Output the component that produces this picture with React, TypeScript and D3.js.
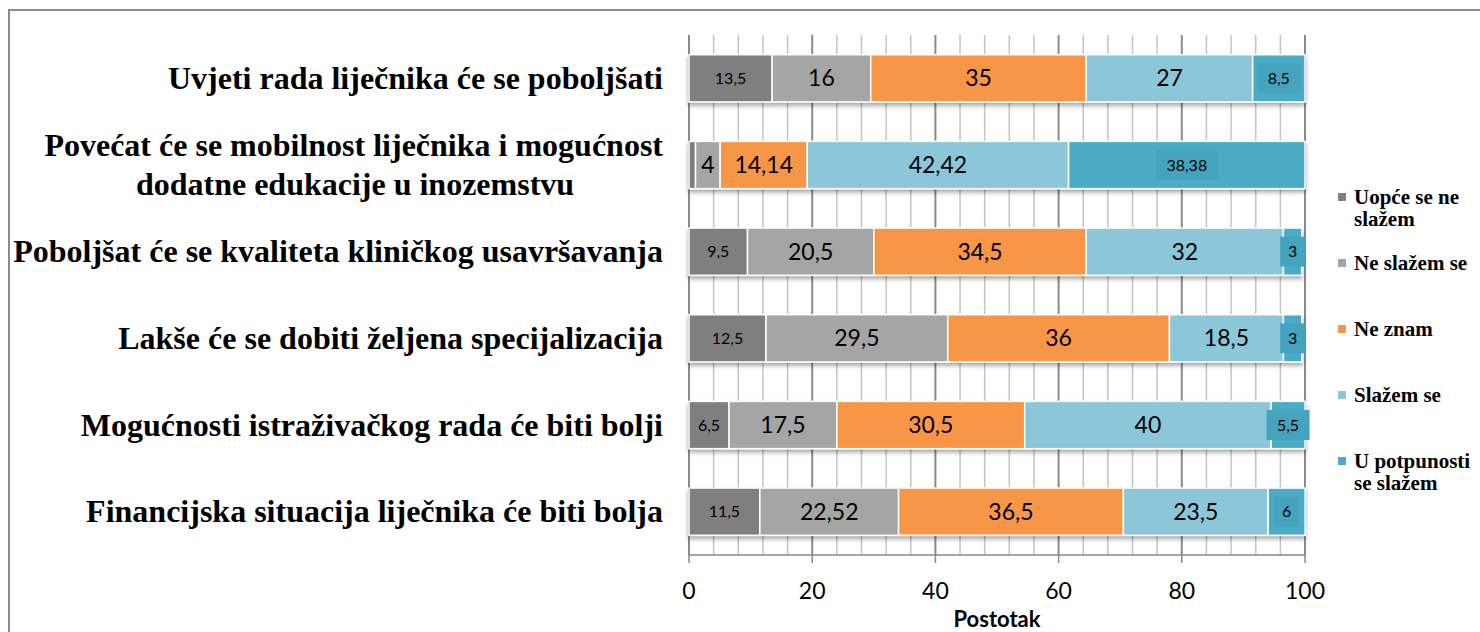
import React from 'react';
import * as d3 from 'd3';

const categories = [
  'Uvjeti rada liječnika će se poboljšati',
  'Povećat će se mobilnost liječnika i mogućnost|dodatne edukacije u inozemstvu',
  'Poboljšat će se kvaliteta kliničkog usavršavanja',
  'Lakše će se dobiti željena specijalizacija',
  'Mogućnosti istraživačkog rada će biti bolji',
  'Financijska situacija liječnika će biti bolja',
];

const seriesNames = ['Uopće se ne|slažem', 'Ne slažem se', 'Ne znam', 'Slažem se', 'U potpunosti|se slažem'];

const uopce = [13.5, 1.06, 9.5, 12.5, 6.5, 11.5];
const neSlazem = [16, 4, 20.5, 29.5, 17.5, 22.52];
const neZnam = [35, 14.14, 34.5, 36, 30.5, 36.5];
const slazem = [27, 42.42, 32, 18.5, 40, 23.5];
const potpuno = [8.5, 38.38, 3, 3, 5.5, 6];

const seriesValues = [uopce, neSlazem, neZnam, slazem, potpuno];
const colors = ['#7f7f7f', '#a5a5a5', '#f79646', '#8cc6d9', '#4aabc5'];
const xTicks = [0, 20, 40, 60, 80, 100];

const W = 1480;
const H = 632;
const serif = '"Liberation Serif", "Times New Roman", serif';
const sans = 'Lato, "Open Sans", sans-serif';

const App: React.FC = () => {
  const x = d3.scaleLinear().domain([0, 100]).range([689, 1305]);
  const y = d3.scaleBand<number>()
    .domain(d3.range(categories.length))
    .range([35, 555])
    .paddingInner(0.455)
    .paddingOuter(0.2275);

  const stack = categories.map((_, i) => {
    let acc = 0;
    return seriesValues.map((vals, s) => {
      const start = acc;
      acc += vals[i];
      return { s, start, end: acc, v: vals[i] };
    });
  });

  const minor = d3.range(0, 101, 4);
  const bh = y.bandwidth();

  return (
    <svg width={W} height={H} style={{ position: 'absolute', left: 0, top: 0 }}>
      <defs>
        <filter id="shadow" x="-5%" y="-20%" width="110%" height="160%">
          <feDropShadow dx="0" dy="3" stdDeviation="2" floodColor="#000" floodOpacity="0.35" />
        </filter>
      </defs>
      <rect x={0} y={0} width={W} height={H} fill="#fff" />
      <rect x={9} y={10} width={W + 20} height={H + 20} fill="none" stroke="#8c8c8c" strokeWidth={2} />

      {/* gridlines */}
      {minor.map(t => (
        <line key={t} x1={x(t)} x2={x(t)} y1={35} y2={555}
          stroke={t % 20 === 0 ? '#8a8a8a' : '#c4c4c4'} strokeWidth={t % 20 === 0 ? 2 : 1.5} />
      ))}

      {/* bars */}
      {stack.map((row, i) => (
        <g key={i} filter="url(#shadow)">
          {row.map(seg => (
            <rect key={seg.s} x={x(seg.start)} y={y(i)} width={x(seg.end) - x(seg.start)} height={bh}
              fill={colors[seg.s]} stroke="#fff" strokeWidth={1.5} />
          ))}
        </g>
      ))}

      {/* data labels */}
      {stack.map((row, i) => row.map(seg => {
        if (i === 1 && seg.s === 0) return null;
        const cx = (x(seg.start) + x(seg.end)) / 2;
        const cy = y(i)! + bh / 2;
        const label = String(seg.v).replace('.', ',');
        const small = seg.s === 0 || seg.s === 4;
        const fs = small ? 16 : 23;
        if (seg.s === 4) {
          const w = label.length * 9 + 16;
          return (
            <g key={`${i}-${seg.s}`}>
              <rect x={cx - w / 2} y={cy - 15} width={w} height={30} fill="#45a3bd" />
              <text x={cx} y={cy} dy="0.35em" textAnchor="middle" fontFamily={sans} fontSize={fs} fill="#000">{label}</text>
            </g>
          );
        }
        return (
          <text key={`${i}-${seg.s}`} x={cx} y={cy} dy="0.35em" textAnchor="middle" fontFamily={sans} fontSize={fs} fill="#000">{label}</text>
        );
      }))}

      {/* x axis */}
      <line x1={x(0)} x2={x(100)} y1={555} y2={555} stroke="#8a8a8a" strokeWidth={1.5} />
      {xTicks.map(t => (
        <g key={t}>
          <line x1={x(t)} x2={x(t)} y1={555} y2={563} stroke="#8a8a8a" strokeWidth={1.5} />
          <text x={x(t)} y={599} textAnchor="middle" fontFamily={sans} fontSize={23} fill="#000">{t}</text>
        </g>
      ))}
      <text x={x(50)} y={627} textAnchor="middle" fontFamily={sans} fontWeight="bold" fontSize={22} fill="#000">Postotak</text>

      {/* category labels */}
      {categories.map((c, i) => {
        const lines = c.split('|');
        const cy = y(i)! + bh / 2;
        if (lines.length === 1) {
          return (
            <text key={i} x={663} y={cy} dy="0.33em" textAnchor="end" fontFamily={serif} fontWeight="bold" fontSize={32} fill="#000">{c}</text>
          );
        }
        return (
          <text key={i} x={663} y={cy} textAnchor="end" fontFamily={serif} fontWeight="bold" fontSize={32} fill="#000">
            <tspan x={663} dy="-0.27em">{lines[0]}</tspan>
            <tspan x={355} dy="1.2em" textAnchor="middle">{lines[1]}</tspan>
          </text>
        );
      })}

      {/* legend */}
      {seriesNames.map((n, s) => {
        const lines = n.split('|');
        const ly = [197, 263, 329, 395, 461][s];
        return (
          <g key={s}>
            <rect x={1338} y={ly - 4} width={8} height={8} fill={colors[s]} />
            <text x={1354} y={ly} fontFamily={serif} fontWeight="bold" fontSize={21} fill="#000">
              {lines.map((l, k) => (
                <tspan key={k} x={1354} dy={k === 0 ? '0.33em' : '1.05em'}>{l}</tspan>
              ))}
            </text>
          </g>
        );
      })}
    </svg>
  );
};

export default App;
